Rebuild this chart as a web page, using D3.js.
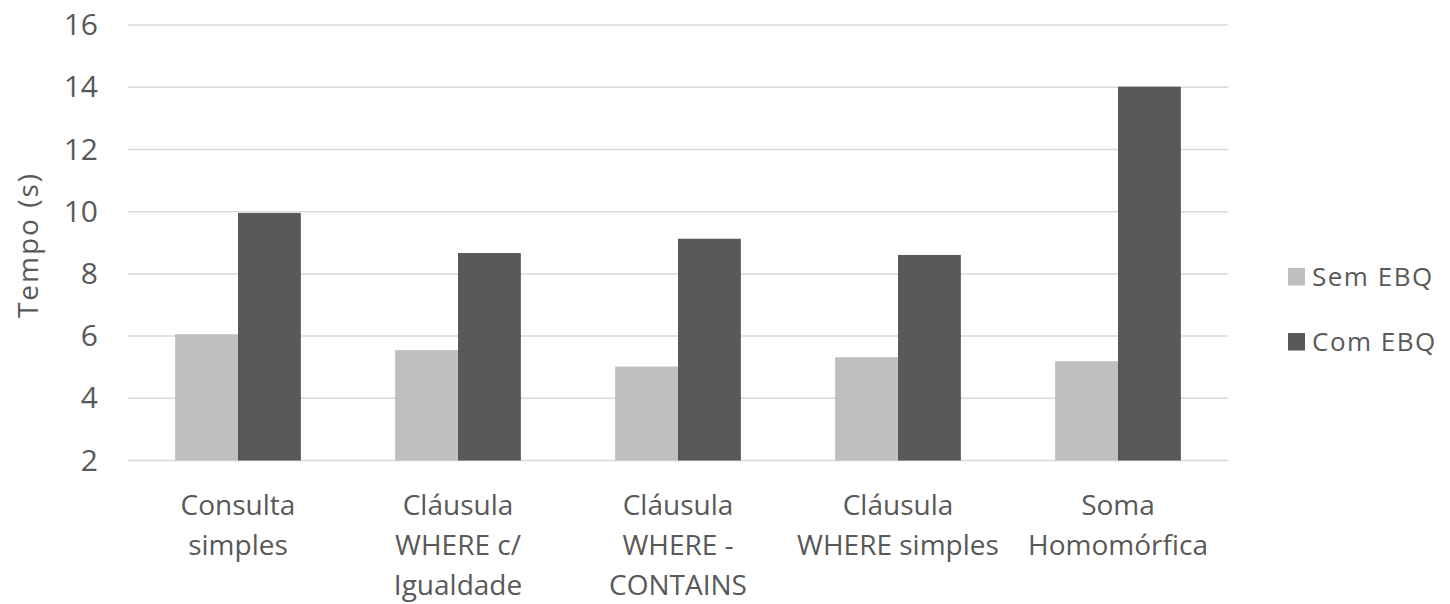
<!DOCTYPE html>
<html>
<head>
<meta charset="utf-8">
<script src="https://cdn.jsdelivr.net/npm/d3@7"></script>
<style>
  html, body { margin: 0; padding: 0; background: #fff; }
  svg { display: block; }
  text { font-family: "Open Sans", "Noto Sans", sans-serif; fill: #595959; }
</style>
</head>
<body>
<svg id="chart" width="1450" height="604"></svg>
<script>
// Query types and their wrapped label lines
const categories = [
  "Consulta simples",
  "Cláusula WHERE c/ Igualdade",
  "Cláusula WHERE - CONTAINS",
  "Cláusula WHERE simples",
  "Soma Homomórfica"
];
const categoryLines = [
  ["Consulta", "simples"],
  ["Cláusula", "WHERE c/", "Igualdade"],
  ["Cláusula", "WHERE -", "CONTAINS"],
  ["Cláusula", "WHERE simples"],
  ["Soma", "Homomórfica"]
];
const seriesNames = ["Sem EBQ", "Com EBQ"];
const semEBQ = [6.06, 5.55, 5.02, 5.32, 5.19];
const comEBQ = [9.96, 8.67, 9.13, 8.61, 14.02];
const yTicks = [2, 4, 6, 8, 10, 12, 14, 16];
const yTitle = "Tempo (s)";

const colors = { "Sem EBQ": "#bfbfbf", "Com EBQ": "#595959" };

const svg = d3.select("#chart");
const plot = { left: 128, right: 1228, top: 25.1, bottom: 460.5 };

const x = d3.scaleBand()
  .domain(categories)
  .range([plot.left, plot.right])
  .padding(0);

// Two bars per group with a gap of 150% of one bar's width
const barW = x.bandwidth() / 3.5;
const xSub = d3.scaleBand()
  .domain(seriesNames)
  .range([0.75 * barW, 2.75 * barW]);

const y = d3.scaleLinear()
  .domain([2, 16])
  .range([plot.bottom, plot.top]);

// Horizontal gridlines
svg.append("g")
  .selectAll("line")
  .data(yTicks)
  .join("line")
  .attr("x1", plot.left)
  .attr("x2", plot.right)
  .attr("y1", d => y(d))
  .attr("y2", d => y(d))
  .attr("stroke", "#d9d9d9")
  .attr("stroke-width", 1.5);

// Y axis tick labels
const yAxis = d3.axisLeft(y).tickValues(yTicks).tickSize(0).tickPadding(0);
const gy = svg.append("g")
  .attr("transform", "translate(98,0)")
  .call(yAxis);
gy.select(".domain").remove();
gy.selectAll("text")
  .attr("font-size", 30)
  .attr("fill", "#595959")
  .style("font-family", '"Open Sans", "Noto Sans", sans-serif');

// Bars
const groups = svg.append("g")
  .selectAll("g")
  .data(categories.map((c, i) => ({ c, vals: [semEBQ[i], comEBQ[i]] })))
  .join("g")
  .attr("transform", d => `translate(${x(d.c)},0)`);

groups.selectAll("rect")
  .data(d => d.vals.map((v, j) => ({ s: seriesNames[j], v })))
  .join("rect")
  .attr("x", d => xSub(d.s))
  .attr("width", xSub.bandwidth())
  .attr("y", d => y(d.v))
  .attr("height", d => y(2) - y(d.v))
  .attr("fill", d => colors[d.s]);

// Category labels
const labels = svg.append("g")
  .selectAll("text")
  .data(categories.map((c, i) => ({ c, lines: categoryLines[i] })))
  .join("text")
  .attr("text-anchor", "middle")
  .attr("font-size", 28)
  .attr("transform", d => `translate(${x(d.c) + x.bandwidth() / 2},0)`);
labels.selectAll("tspan")
  .data(d => d.lines)
  .join("tspan")
  .attr("x", 0)
  .attr("y", (d, i) => 515 + i * 40)
  .text(d => d);

// Y axis title
svg.append("text")
  .attr("transform", "translate(38,245) rotate(-90)")
  .attr("text-anchor", "middle")
  .attr("font-size", 28)
  .attr("letter-spacing", 2)
  .text(yTitle);

// Legend
const legend = svg.append("g")
  .selectAll("g")
  .data(seriesNames)
  .join("g")
  .attr("transform", (d, i) => `translate(1288,${285.5 + i * 65})`);
legend.append("rect")
  .attr("x", 0)
  .attr("y", -17.5)
  .attr("width", 17)
  .attr("height", 17.5)
  .attr("fill", d => colors[d]);
legend.append("text")
  .attr("x", 24)
  .attr("y", 0)
  .attr("font-size", 26)
  .attr("letter-spacing", 1.5)
  .text(d => d);
</script>
</body>
</html>
